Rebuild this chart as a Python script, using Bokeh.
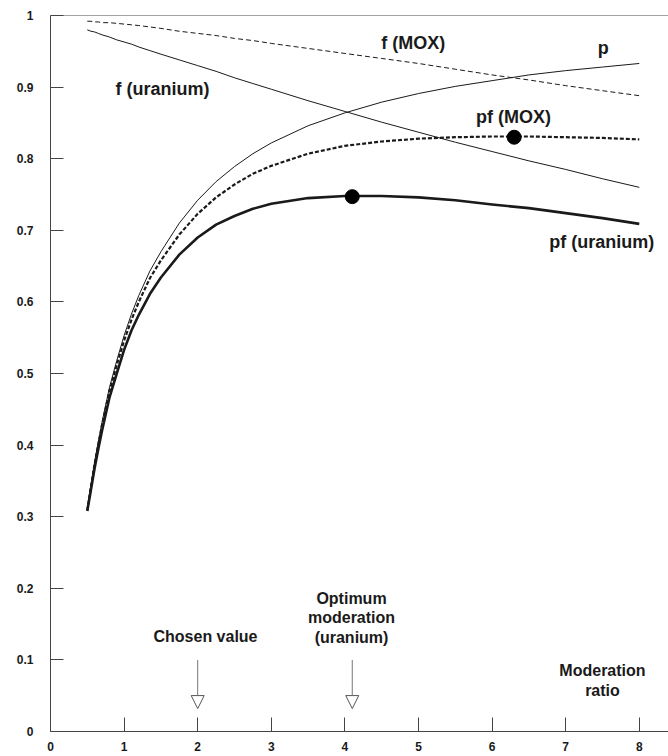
from bokeh.plotting import figure
from bokeh.models import Range1d, FixedTicker, Span, Arrow, NormalHead, ColumnDataSource
from bokeh.core.properties import value
from bokeh.embed import file_html
from bokeh.resources import INLINE

# Moderation ratio grid
x = [0.50, 0.55, 0.60, 0.65, 0.70, 0.80, 0.90, 1.00, 1.10, 1.20, 1.35, 1.50, 1.75, 2.00,
     2.25, 2.50, 2.75, 3.00, 3.50, 4.00, 4.50, 5.00, 5.50, 6.00, 6.50, 7.00, 7.50, 8.00]

# Resonance escape probability p
p = [0.310, 0.345, 0.377, 0.405, 0.432, 0.480, 0.518, 0.553, 0.583, 0.609, 0.643, 0.670, 0.710, 0.742,
     0.768, 0.789, 0.807, 0.822, 0.846, 0.864, 0.879, 0.891, 0.901, 0.909, 0.917, 0.923, 0.928, 0.933]

# Thermal utilisation factor f
f_uranium = [0.980, 0.978, 0.977, 0.975, 0.973, 0.970, 0.966, 0.963, 0.960, 0.956, 0.951, 0.946, 0.938, 0.930,
             0.922, 0.913, 0.905, 0.897, 0.881, 0.866, 0.851, 0.837, 0.823, 0.810, 0.797, 0.785, 0.772, 0.760]
f_mox = [0.992, 0.992, 0.991, 0.991, 0.990, 0.990, 0.989, 0.988, 0.987, 0.986, 0.984, 0.982, 0.978, 0.975,
         0.972, 0.968, 0.965, 0.961, 0.954, 0.947, 0.940, 0.933, 0.925, 0.917, 0.910, 0.902, 0.895, 0.888]

# Product pf
pf_uranium = [0.308, 0.338, 0.368, 0.395, 0.420, 0.466, 0.500, 0.533, 0.560, 0.582, 0.611, 0.634, 0.666, 0.690,
              0.708, 0.720, 0.730, 0.737, 0.745, 0.748, 0.748, 0.746, 0.742, 0.736, 0.731, 0.724, 0.717, 0.709]
pf_mox = [0.309, 0.342, 0.374, 0.401, 0.428, 0.475, 0.512, 0.546, 0.575, 0.600, 0.633, 0.658, 0.694, 0.723,
          0.746, 0.764, 0.779, 0.790, 0.807, 0.818, 0.824, 0.828, 0.830, 0.831, 0.831, 0.830, 0.829, 0.827]

# Optima of pf
opt_x = [4.1, 6.3]
opt_y = [0.747, 0.830]

# Reference moderation ratios marked by arrows
chosen_value = 2.0
optimum_uranium = 4.1

x_ticks = [0, 1, 2, 3, 4, 5, 6, 7, 8]
x_tick_labels = ["0", "1", "2", "3", "4", "5", "6", "7", "8"]
y_ticks = [0.0, 0.1, 0.2, 0.3, 0.4, 0.5, 0.6, 0.7, 0.8, 0.9, 1.0]
y_tick_labels = ["0", "0.1", "0.2", "0.3", "0.4", "0.5", "0.6", "0.7", "0.8", "0.9", "1"]

FONT = "Liberation Sans"
INK = "#1a1a1a"

p_fig = figure(width=668, height=756, output_backend="svg", toolbar_location=None,
               x_range=Range1d(0, 8.397), y_range=Range1d(0, 1),
               min_border_left=50, min_border_right=0, min_border_top=15, min_border_bottom=25)
p_fig.outline_line_color = None
p_fig.xgrid.grid_line_color = None
p_fig.ygrid.grid_line_color = None
p_fig.background_fill_color = "white"
p_fig.border_fill_color = "white"

for ax in (p_fig.xaxis[0], p_fig.yaxis[0]):
    ax.axis_line_color = "#444444"
    ax.axis_line_width = 1
    ax.major_tick_line_color = "#444444"
    ax.major_tick_out = 0
    ax.minor_tick_line_color = None
    ax.major_label_text_font = FONT
    ax.major_label_text_font_style = "bold"
    ax.major_label_text_font_size = "12px"
    ax.major_label_text_color = INK

p_fig.xaxis.ticker = FixedTicker(ticks=x_ticks)
p_fig.xaxis.major_label_overrides = {t: s for t, s in zip(x_ticks, x_tick_labels)}
p_fig.xaxis.major_tick_in = 14
p_fig.xaxis.major_label_standoff = 10

p_fig.yaxis.ticker = FixedTicker(ticks=y_ticks)
p_fig.yaxis.major_label_overrides = {t: s for t, s in zip(y_ticks, y_tick_labels)}
p_fig.yaxis.major_tick_in = 13
p_fig.yaxis.major_label_standoff = 17

# top border of the frame
p_fig.add_layout(Span(location=1.0, dimension="width", line_color="#444444", line_width=1))

src = ColumnDataSource(dict(x=x, p=p, fu=f_uranium, fm=f_mox, pfu=pf_uranium, pfm=pf_mox))

p_fig.line("x", "fm", source=src, line_color=INK, line_width=1, line_dash="5 3")
p_fig.line("x", "fu", source=src, line_color=INK, line_width=1)
p_fig.line("x", "p", source=src, line_color=INK, line_width=1)
p_fig.line("x", "pfm", source=src, line_color=INK, line_width=2.2, line_dash="4 2",
           line_join="round")
p_fig.line("x", "pfu", source=src, line_color=INK, line_width=2.6, line_join="round")
p_fig.scatter(opt_x, opt_y, size=14, color="black")

# arrows pointing at the moderation ratios
for xv in (chosen_value, optimum_uranium):
    p_fig.add_layout(Arrow(x_start=xv, y_start=0.1, x_end=xv, y_end=0.032,
                           line_color="#777777", line_width=1,
                           end=NormalHead(size=13, fill_color="white",
                                          line_color="#555555", line_width=1)))

def label(xv, yv, txt, align="center", size="16px"):
    p_fig.text([xv], [yv], text=[txt], text_font=value(FONT), text_font_style="bold",
               text_font_size=size, text_color=INK, text_align=align,
               text_baseline="middle")

# curve names
label(0.883, 0.898, "f (uranium)", align="left", size="18px")
label(4.93, 0.962, "f (MOX)", size="18px")
label(7.51, 0.954, "p", size="18px")
label(6.29, 0.858, "pf (MOX)", size="18px")
label(7.49, 0.683, "pf (uranium)", size="18px")

# annotations along the axis
label(2.106, 0.133, "Chosen value")
label(4.09, 0.186, "Optimum")
label(4.09, 0.159, "moderation")
label(4.09, 0.131, "(uranium)")
label(7.50, 0.085, "Moderation")
label(7.50, 0.057, "ratio")

open("out.html", "w").write(file_html(p_fig, INLINE))
